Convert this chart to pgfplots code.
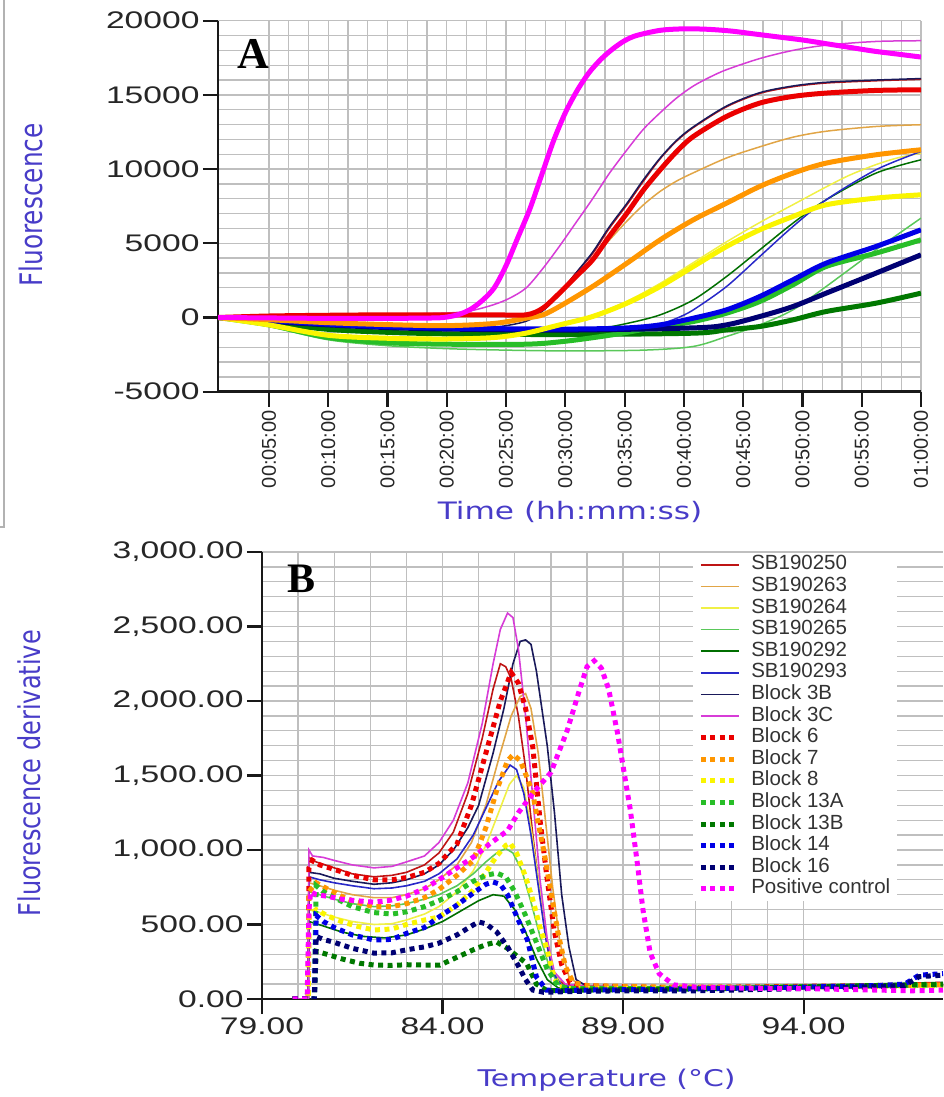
\documentclass[border=0pt]{standalone}
\usepackage{pgfplots}
\pgfplotsset{compat=1.18}
\usepackage{fontspec}
\setmainfont{Liberation Sans}
\newfontfamily\tickfont[FakeStretch=1.4]{Liberation Sans}
\newfontfamily\labfont[FakeStretch=1.3]{DejaVu Sans}
\newfontfamily\rlabfont[FakeStretch=0.8]{DejaVu Sans}
\newfontfamily\legfont{Liberation Sans}
\newfontfamily\panelfont{Liberation Serif}

\definecolor{labblue}{RGB}{72,60,200}
\definecolor{cRedThin}{RGB}{190,20,20}
\definecolor{cRed}{RGB}{235,0,0}
\definecolor{cOrThin}{RGB}{225,165,70}
\definecolor{cOr}{RGB}{255,150,0}
\definecolor{cYelThin}{RGB}{240,240,70}
\definecolor{cYel}{RGB}{250,245,0}
\definecolor{cLGrThin}{RGB}{90,200,90}
\definecolor{cLGr}{RGB}{40,190,40}
\definecolor{cDGrThin}{RGB}{0,110,0}
\definecolor{cDGr}{RGB}{0,120,0}
\definecolor{cBlThin}{RGB}{40,40,200}
\definecolor{cBl}{RGB}{0,0,230}
\definecolor{cNvThin}{RGB}{25,25,90}
\definecolor{cNv}{RGB}{0,0,115}
\definecolor{cMgThin}{RGB}{215,60,215}
\definecolor{cMg}{RGB}{255,0,255}

\pgfplotsset{
  panel/.style={
    scale only axis,
    axis lines=left,
    axis line style={-, line width=2.6pt, black!90},
    tick align=outside,
    major tick length=15pt,
    minor tick length=0pt,
    major tick style={line width=2.2pt, black!90},
    grid=both,
    major grid style={line width=1.3pt, black!25},
    minor grid style={line width=1.3pt, black!25},
    tick label style={font=\tickfont\fontsize{24}{26}\selectfont, text=black!85},
    label style={text=labblue},
    scaled ticks=false,
  },
  thinA/.style={line width=1.5pt, smooth, tension=0.5},
  thickA/.style={line width=5pt, smooth, tension=0.5},
  thinB/.style={line width=1.6pt},
  dotB/.style={line width=5pt, dash pattern=on 5pt off 4.5pt},
}

\begin{document}
\begin{tikzpicture}[x=1pt,y=1pt]
\useasboundingbox (0pt,0pt) rectangle (943pt,1097pt);
\draw[black!30, line width=1.2pt] (4pt,1097pt) -- (4pt,570pt) -- (0pt,570pt);

% ---------------- panel A: amplification ----------------
\begin{axis}[panel,
  at={(218pt,705.3pt)}, anchor=south west,
  width=703pt, height=371pt,
  xmin=0.7, xmax=60, ymin=-5000, ymax=20000,
  xtick={5,10,...,60},
  xticklabels={00:05:00,00:10:00,00:15:00,00:20:00,00:25:00,00:30:00,00:35:00,00:40:00,00:45:00,00:50:00,00:55:00,01:00:00},
  minor x tick num=2,
  ytick={-5000,0,5000,10000,15000,20000},
  yticklabels={-5000,0,5000,10000,15000,20000},
  minor y tick num=4,
  xticklabel style={rotate=90, anchor=east, font=\legfont\fontsize{20}{22}\selectfont},
  xlabel={Time (hh:mm:ss)},
  xlabel style={at={(axis description cs:0.5007,-0.324)}, anchor=center, font=\labfont\fontsize{24}{26}\selectfont},
  ylabel={Fluorescence},
  ylabel style={at={(axis description cs:-0.266,0.503)}, anchor=center, font=\rlabfont\fontsize{31}{33}\selectfont},
]
% SB190250
\addplot[thinA, cRedThin] coordinates {(0.7,0) (5,100) (10,150) (15,180) (20,200) (24,220) (26.7,250) (28.1,700) (29.5,1700) (30.9,3000) (32.3,4300) (33.7,6000) (35.2,7600) (36.6,9200) (38.0,10700) (39.4,11900) (40.8,12800) (43.6,14200) (46.4,15100) (49.2,15550) (52,15800) (56.2,15950) (60,16050)};
% SB190263
\addplot[thinA, cOrThin] coordinates {(0.7,0) (5,-150) (10,-300) (15,-420) (20,-500) (24,-450) (26.7,0) (28.1,600) (29.5,1500) (30.9,2700) (32.3,3900) (33.7,5200) (35.2,6500) (36.6,7600) (38,8500) (39.4,9200) (40.8,9750) (43.6,10750) (46.4,11500) (49.2,12150) (52,12550) (56.2,12870) (60,12990)};
% SB190264
\addplot[thinA, cYelThin] coordinates {(0.7,0) (5,-450) (10,-1100) (15,-1300) (20,-1350) (24,-1250) (26.7,-1000) (29.5,-450) (32.3,150) (35.2,1100) (38,2300) (40.8,3700) (43.6,5100) (46.4,6400) (49.2,7600) (52,8800) (54,9600) (56.2,10300) (58,10750) (60,11077)};
% SB190265
\addplot[thinA, cLGrThin] coordinates {(0.7,0) (5,-600) (10,-1500) (15,-1900) (20,-2100) (25,-2200) (30,-2250) (36.6,-2200) (40.8,-1950) (43.6,-1280) (46.4,-500) (49.2,516) (52,2089) (56.2,4560) (60,6696)};
% SB190292
\addplot[thinA, cDGrThin] coordinates {(0.7,0) (5,-300) (10,-800) (15,-1000) (20,-1100) (26.7,-1100) (32.3,-800) (35.2,-400) (38,179) (40.8,1190) (43.6,2763) (46.4,4560) (49.2,6358) (52,7931) (56.2,9728) (60,10627)};
% SB190293
\addplot[thinA, cBlThin] coordinates {(0.7,0) (5,-200) (10,-450) (15,-600) (20,-720) (30,-800) (36.6,-700) (38,-450) (39.4,-50) (40.8,516) (43.6,2089) (46.4,4111) (49.2,6134) (52,7931) (56.2,9953) (60,11190)};
% Block 3B
\addplot[thinA, cNvThin] coordinates {(0.7,0) (5,-200) (10,-400) (15,-600) (20,-700) (24,-650) (26.7,-250) (28.1,450) (29.5,1550) (30.9,3000) (32.3,4400) (33.7,6100) (35.2,7700) (36.6,9300) (38.0,10750) (39.4,11950) (40.8,12850) (43.6,14250) (46.4,15150) (49.2,15600) (52,15850) (56.2,16000) (60,16100)};
% Block 3C
\addplot[thinA, cMgThin] coordinates {(0.7,0) (5,80) (10,150) (15,200) (20,300) (22,450) (23.9,850) (25.3,1300) (26.7,2000) (28.1,3300) (29.5,4800) (30.9,6400) (32.3,8000) (33.7,9700) (35.2,11300) (36.6,12700) (38.0,13800) (39.4,14800) (40.8,15600) (42.2,16200) (43.6,16700) (46.4,17450) (49.2,18000) (52,18350) (56.2,18600) (60,18650)};
% Block 13B
\addplot[thickA, cDGr] coordinates {(0.7,0) (5,-350) (10,-800) (15,-1000) (20,-1100) (30,-1150) (40.8,-1057) (43.6,-833) (46.4,-608) (49.2,-158) (52,403) (56.2,965) (60,1639)};
% Block 13A
\addplot[thickA, cLGr] coordinates {(0.7,0) (5,-500) (10,-1350) (15,-1700) (20,-1800) (26.7,-1800) (30,-1600) (33.7,-1200) (36.6,-800) (38,-600) (40.8,-271) (43.6,291) (46.4,1077) (49.2,2201) (52,3437) (56.2,4336) (60,5235)};
% Block 16
\addplot[thickA, cNv] coordinates {(0.7,0) (5,-250) (10,-500) (15,-680) (20,-780) (30,-850) (40.8,-700) (43.6,-496) (46.4,66) (49.2,740) (52,1639) (56.2,2987) (60,4223)};
% Block 14
\addplot[thickA, cBl] coordinates {(0.7,0) (5,-200) (10,-450) (15,-620) (20,-720) (30,-780) (35.2,-700) (38,-496) (40.8,-46) (43.6,516) (46.4,1414) (49.2,2538) (52,3661) (56.2,4785) (60,5909)};
% Block 8
\addplot[thickA, cYel] coordinates {(0.7,0) (5,-500) (10,-1200) (15,-1400) (20,-1450) (24,-1350) (26.7,-1050) (29.5,-500) (32.3,66) (35.2,965) (38,2089) (40.8,3437) (43.6,4785) (46.4,5909) (49.2,6808) (52,7594) (56.2,8044) (60,8268)};
% Block 7
\addplot[thickA, cOr] coordinates {(0.7,0) (5,-150) (10,-350) (15,-480) (20,-550) (24,-400) (26.7,-46) (28.1,179) (29.5,740) (32.3,2089) (35.2,3661) (38,5235) (40.8,6583) (43.6,7706) (46.4,8830) (49.2,9728) (52,10402) (56.2,10964) (60,11302)};
% Block 6
\addplot[thickA, cRed] coordinates {(0.7,0) (5,100) (10,150) (15,180) (20,180) (24,180) (26.7,180) (28.1,629) (29.5,1639) (30.9,2763) (32.3,3886) (33.7,5460) (35.2,7032) (36.6,8605) (38.0,9953) (39.4,11190) (40.8,12200) (43.6,13548) (46.4,14447) (49.2,14897) (52,15122) (56.2,15300) (60,15346)};
% Positive control
\addplot[thickA, cMg] coordinates {(0.7,0) (5,-30) (10,-60) (15,-60) (19,-30) (20,30) (21,200) (22,550) (23,1150) (24,2000) (25,3500) (26,5400) (27,7300) (28,9600) (29,11900) (30,13800) (31,15300) (32,16500) (33,17400) (34,18100) (35,18650) (36,19000) (38,19350) (40,19450) (42,19420) (44,19300) (46,19100) (48,18900) (50,18700) (52,18450) (54,18200) (56,17950) (58,17750) (60,17550)};
\end{axis}

% ---------------- panel B: melt curves ----------------
\begin{axis}[panel,
  at={(262pt,98pt)}, anchor=south west,
  width=681pt, height=447pt,
  xmin=79, xmax=97.86, ymin=0, ymax=3000,
  xtick={79,84,89,94},
  xticklabels={79.00,84.00,89.00,94.00},
  minor x tick num=4,
  ytick={0,500,1000,1500,2000,2500,3000},
  yticklabels={0.00,500.00,{1,000.00},{1,500.00},{2,000.00},{2,500.00},{3,000.00}},
  minor y tick num=4,
  xlabel={Temperature (°C)},
  xlabel style={at={(axis description cs:0.506,-0.181)}, anchor=center, font=\labfont\fontsize{23}{25}\selectfont},
  ylabel={Fluorescence derivative},
  ylabel style={at={(axis description cs:-0.341,0.505)}, anchor=center, font=\rlabfont\fontsize{30}{32}\selectfont},
  legend cell align=left,
  legend image code/.code={\draw[#1] (0pt,0pt) -- (38pt,0pt);},
  legend style={at={(axis description cs:0.633,0.998)}, anchor=north west,
    fill=white, draw=none, inner xsep=5pt, inner ysep=1pt,
    font=\legfont\fontsize{20.5}{22}\selectfont, text=black!80,
    nodes={inner ysep=1pt, inner xsep=2pt, text height=14.8pt, text depth=4.8pt},
    /tikz/every odd column/.append style={column sep=8pt}},
]
\addplot[thinB, cRedThin] coordinates {(79.85,0) (80.28,0) (80.3,950) (80.5,920) (81,880) (81.5,840) (82.1,820) (82.6,830) (83,850) (83.5,900) (83.9,980) (84.3,1120) (84.7,1380) (85.1,1750) (85.4,2080) (85.6,2250) (85.75,2230) (85.9,2150) (86.1,1900) (86.3,1550) (86.5,1100) (86.7,700) (86.9,350) (87.1,150) (87.4,90) (88,80) (92,80) (97.86,95)};
\addlegendentry{SB190250}
\addplot[thinB, cOrThin] coordinates {(79.85,0) (80.28,0) (80.3,780) (80.6,760) (81,730) (81.5,700) (82.1,680) (82.6,680) (83,700) (83.5,740) (83.9,800) (84.4,900) (84.8,1050) (85.2,1300) (85.6,1650) (85.9,1900) (86.15,2030) (86.3,2050) (86.45,1950) (86.65,1650) (86.85,1200) (87.05,750) (87.25,380) (87.5,150) (87.8,90) (89,80) (97.86,95)};
\addlegendentry{SB190263}
\addplot[thinB, cYelThin] coordinates {(79.85,0) (80.28,0) (80.3,600) (80.6,580) (81,550) (81.5,520) (82.1,500) (82.6,505) (83,530) (83.5,570) (83.9,620) (84.4,720) (84.85,860) (85.2,1030) (85.55,1250) (85.85,1440) (86.05,1500) (86.25,1420) (86.45,1150) (86.65,800) (86.85,450) (87.05,200) (87.3,90) (88,75) (92,75) (97.86,90)};
\addlegendentry{SB190264}
\addplot[thinB, cLGrThin] coordinates {(79.85,0) (80.28,0) (80.3,720) (80.6,700) (81,670) (81.5,640) (82.1,620) (82.6,625) (83,640) (83.5,670) (83.9,700) (84.4,760) (84.85,840) (85.2,920) (85.5,980) (85.75,1010) (85.95,980) (86.2,860) (86.45,650) (86.7,420) (86.95,220) (87.2,100) (87.5,75) (90,75) (97.86,100)};
\addlegendentry{SB190265}
\addplot[thinB, cDGrThin] coordinates {(79.85,0) (80.28,0) (80.3,520) (80.7,490) (81.2,450) (81.8,420) (82.4,410) (83,430) (83.5,470) (84,520) (84.5,590) (85,660) (85.4,700) (85.7,690) (86,600) (86.3,450) (86.6,270) (86.9,130) (87.2,75) (90,70) (97.86,95)};
\addlegendentry{SB190292}
\addplot[thinB, cBlThin] coordinates {(79.85,0) (80.28,0) (80.3,820) (80.6,800) (81,780) (81.5,760) (82.1,740) (82.6,745) (83,760) (83.5,790) (83.9,840) (84.4,940) (84.85,1100) (85.2,1280) (85.55,1460) (85.87,1570) (86.05,1540) (86.25,1380) (86.45,1100) (86.65,760) (86.85,420) (87.05,180) (87.3,90) (88,75) (92,75) (97.86,110)};
\addlegendentry{SB190293}
\addplot[thinB, cNvThin] coordinates {(79.85,0) (80.28,0) (80.3,850) (80.6,840) (81,810) (81.5,790) (82.1,770) (82.6,780) (83,800) (83.5,840) (83.9,900) (84.3,1000) (84.7,1150) (85.0,1300) (85.4,1650) (85.7,1950) (85.95,2250) (86.15,2400) (86.3,2410) (86.45,2380) (86.6,2200) (86.75,1950) (86.9,1700) (87.1,1250) (87.3,700) (87.5,350) (87.7,130) (88,85) (92,80) (97.86,100)};
\addlegendentry{Block 3B}
\addplot[thinB, cMgThin] coordinates {(79.85,0) (80.28,0) (80.3,1000) (80.4,960) (80.7,950) (81.0,930) (81.5,900) (82.1,880) (82.6,890) (83.0,920) (83.5,960) (83.9,1050) (84.3,1200) (84.7,1450) (85.1,1850) (85.4,2250) (85.6,2480) (85.8,2590) (85.95,2560) (86.1,2350) (86.3,1900) (86.5,1350) (86.7,800) (86.9,400) (87.1,180) (87.4,100) (88,85) (90,80) (93,80) (96,85) (97.86,90)};
\addlegendentry{Block 3C}
\addplot[dotB, cRed] coordinates {(79.85,0) (80.28,0) (80.3,880) (80.4,930) (80.6,900) (81.0,870) (81.5,830) (82.1,800) (82.6,800) (83.0,815) (83.5,850) (83.9,910) (84.4,1040) (84.8,1300) (85.2,1650) (85.6,2000) (85.9,2190) (86.1,2120) (86.3,1950) (86.5,1690) (86.7,1200) (86.9,800) (87.1,450) (87.3,230) (87.53,110) (87.8,90) (88.5,85) (89.5,80) (90.5,75) (92,80) (94,85) (96,90) (97.86,100)};
\addlegendentry{Block 6}
\addplot[dotB, cOr] coordinates {(79.85,0) (80.28,0) (80.3,720) (80.5,780) (80.8,740) (81.2,690) (81.6,650) (82.1,620) (82.6,620) (83,640) (83.5,680) (83.9,735) (84.4,830) (84.85,930) (85.2,1150) (85.5,1400) (85.8,1600) (85.96,1640) (86.15,1600) (86.35,1480) (86.5,1380) (86.65,1180) (86.8,1000) (87.0,720) (87.2,443) (87.4,220) (87.62,110) (88,90) (90,80) (94,80) (97.86,95)};
\addlegendentry{Block 7}
\addplot[dotB, cYel] coordinates {(79.85,0) (80.28,0) (80.3,560) (80.5,600) (80.8,560) (81.2,520) (81.6,490) (82.1,463) (82.6,470) (83.0,500) (83.5,530) (83.9,550) (84.4,630) (84.85,730) (85.2,850) (85.5,960) (85.75,1030) (85.87,1047) (86.05,980) (86.3,820) (86.5,665) (86.7,480) (86.9,330) (87.05,180) (87.2,85) (87.5,70) (89,70) (92,75) (97.86,90)};
\addlegendentry{Block 8}
\addplot[dotB, cLGr] coordinates {(79.85,0) (80.45,0) (80.5,760) (80.7,720) (81,680) (81.5,620) (82.1,580) (82.6,570) (83,585) (83.5,620) (83.9,660) (84.4,720) (84.85,790) (85.2,830) (85.5,845) (85.75,820) (86.0,720) (86.3,560) (86.6,380) (86.9,200) (87.2,90) (87.5,70) (90,70) (97.86,95)};
\addlegendentry{Block 13A}
\addplot[dotB, cDGr] coordinates {(79.85,0) (80.45,0) (80.5,320) (80.8,300) (81.2,270) (81.7,240) (82.1,228) (82.6,225) (83,230) (83.5,228) (83.93,228) (84.4,280) (84.85,330) (85.2,365) (85.5,382) (85.8,340) (86.05,290) (86.33,239) (86.6,100) (86.9,55) (88,60) (92,70) (97.86,100)};
\addlegendentry{Block 13B}
\addplot[dotB, cBl] coordinates {(79.85,0) (80.45,0) (80.5,560) (80.7,520) (81,480) (81.5,430) (82.1,396) (82.6,400) (83,440) (83.5,480) (83.9,550) (84.4,630) (84.85,711) (85.2,770) (85.4,785) (85.6,770) (85.8,700) (86.06,550) (86.35,396) (86.6,148) (86.88,60) (87.2,55) (88,60) (90,65) (93,75) (96,90) (96.8,100) (97.2,160) (97.86,170)};
\addlegendentry{Block 14}
\addplot[dotB, cNv] coordinates {(79.85,0) (80.45,0) (80.5,420) (80.7,400) (81,380) (81.5,340) (82.1,308) (82.6,310) (83,330) (83.5,350) (83.9,375) (84.4,430) (84.85,497) (85.0,517) (85.2,505) (85.5,450) (85.8,350) (86.06,240) (86.3,130) (86.5,60) (86.8,45) (87.5,50) (89,55) (91,55) (93,65) (95,75) (96.8,90) (97.2,150) (97.86,160)};
\addlegendentry{Block 16}
\addplot[dotB, cMg] coordinates {(79.85,0) (80.25,0) (80.3,600) (80.35,720) (80.5,700) (80.8,690) (81.2,670) (81.6,660) (82.1,650) (82.5,660) (83.0,690) (83.5,740) (83.9,800) (84.4,880) (84.9,960) (85.3,1040) (85.8,1130) (86.1,1250) (86.5,1380) (87.0,1520) (87.45,1800) (87.8,2080) (88.0,2230) (88.2,2270) (88.4,2220) (88.6,2080) (88.85,1780) (89.2,1270) (89.4,900) (89.55,600) (89.75,310) (90.0,170) (90.4,95) (91,80) (92,75) (93,70) (94,70) (95,65) (96,60) (97,55) (97.86,60)};
\addlegendentry{Positive control}
\end{axis}

\node[font=\panelfont\bfseries\fontsize{44}{46}\selectfont] at (253pt,1043pt) {A};
\node[font=\panelfont\bfseries\fontsize{42}{44}\selectfont] at (302pt,518pt) {B};
\end{tikzpicture}
\end{document}
